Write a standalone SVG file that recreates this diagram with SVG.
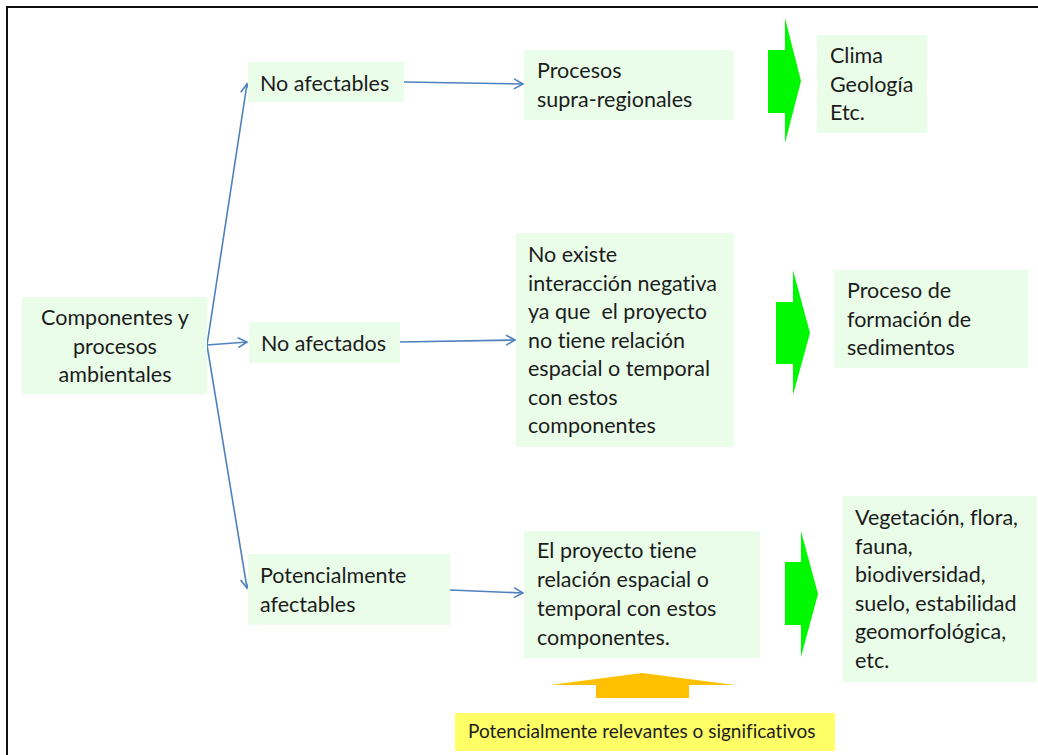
<svg xmlns="http://www.w3.org/2000/svg" width="1038" height="755" viewBox="0 0 1038 755">
  <defs>
    <style>
      .box { fill: #E9FDE9; }
      .t { font-family: Lato, "Open Sans", "Liberation Sans", sans-serif; font-size: 21.5px; fill: #1c1c1c; font-variant-ligatures: none; }
      .ts { font-family: Lato, "Open Sans", "Liberation Sans", sans-serif; font-size: 19px; fill: #1c1c1c; font-variant-ligatures: none; }
      .conn { stroke: #4F81BD; stroke-width: 1.6; fill: none; marker-end: url(#arr); }
      .big { fill: #00F800; }
    </style>
    <marker id="arr" markerUnits="userSpaceOnUse" markerWidth="14" markerHeight="14" viewBox="0 0 14 14" refX="11" refY="7" orient="auto">
      <path d="M2,2 L11,7 L2,12" fill="none" stroke="#4F81BD" stroke-width="1.6"/>
    </marker>
  </defs>
  <rect x="0" y="0" width="1038" height="755" fill="#ffffff"/>
  <rect x="7" y="7" width="1040" height="760" fill="none" stroke="#111" stroke-width="2"/>

  <g id="connectors">
    <line class="conn" x1="207" y1="345" x2="247" y2="84"/>
    <line class="conn" x1="207" y1="345" x2="247" y2="342"/>
    <line class="conn" x1="207" y1="345" x2="247" y2="588"/>
    <line class="conn" x1="404" y1="82" x2="523" y2="84"/>
    <line class="conn" x1="400" y1="342" x2="515" y2="340"/>
    <line class="conn" x1="450" y1="590" x2="523" y2="593"/>
  </g>

  <g id="comp">
    <rect class="box" x="22" y="297" width="185" height="97"/>
    <text class="t" text-anchor="middle" x="115" y="325">Componentes y</text>
    <text class="t" text-anchor="middle" x="115" y="353.5">procesos</text>
    <text class="t" text-anchor="middle" x="115" y="382">ambientales</text>
  </g>
  <g id="no-afectables">
    <rect class="box" x="248" y="62" width="156" height="40"/>
    <text class="t" x="260" y="91">No afectables</text>
  </g>
  <g id="no-afectados">
    <rect class="box" x="249" y="322" width="151" height="41"/>
    <text class="t" x="261" y="351">No afectados</text>
  </g>
  <g id="pot-afectables">
    <rect class="box" x="248" y="554" width="202" height="71"/>
    <text class="t" x="260" y="583">Potencialmente</text>
    <text class="t" x="260" y="612">afectables</text>
  </g>
  <g id="procesos">
    <rect class="box" x="524" y="50" width="210" height="70"/>
    <text class="t" x="537" y="78">Procesos</text>
    <text class="t" x="537" y="107">supra-regionales</text>
  </g>
  <g id="clima">
    <rect class="box" x="817" y="35" width="110" height="98"/>
    <text class="t" x="830" y="63">Clima</text>
    <text class="t" x="830" y="92">Geología</text>
    <text class="t" x="830" y="120">Etc.</text>
  </g>
  <g id="no-existe">
    <rect class="box" x="516" y="233" width="218" height="214"/>
    <text class="t" x="528" y="262">No existe</text>
    <text class="t" x="528" y="290.5">interacción negativa</text>
    <text class="t" x="528" y="319" xml:space="preserve">ya que  el proyecto</text>
    <text class="t" x="528" y="347.5">no tiene relación</text>
    <text class="t" x="528" y="376">espacial o temporal</text>
    <text class="t" x="528" y="404.5">con estos</text>
    <text class="t" x="528" y="433">componentes</text>
  </g>
  <g id="proceso-de">
    <rect class="box" x="834" y="270" width="194" height="98"/>
    <text class="t" x="847" y="298">Proceso de</text>
    <text class="t" x="847" y="327">formación de</text>
    <text class="t" x="847" y="355">sedimentos</text>
  </g>
  <g id="el-proyecto">
    <rect class="box" x="524" y="531" width="236" height="127"/>
    <text class="t" x="537" y="558">El proyecto tiene</text>
    <text class="t" x="537" y="587">relación espacial o</text>
    <text class="t" x="537" y="616">temporal con estos</text>
    <text class="t" x="537" y="645">componentes.</text>
  </g>
  <g id="vegetacion">
    <rect class="box" x="843" y="496" width="194" height="186"/>
    <text class="t" x="855" y="525">Vegetación, flora,</text>
    <text class="t" x="855" y="553.5">fauna,</text>
    <text class="t" x="855" y="582">biodiversidad,</text>
    <text class="t" x="855" y="610.5">suelo, estabilidad</text>
    <text class="t" x="855" y="639">geomorfológica,</text>
    <text class="t" x="855" y="667.5">etc.</text>
  </g>
  <g id="relevantes">
    <rect x="455" y="713" width="380" height="38" fill="#FFFF66"/>
    <text class="ts" x="468" y="738">Potencialmente relevantes o significativos</text>
  </g>

  <g id="green-arrow-1">
    <polygon class="big" points="768,50 785,50 785,18 801,81 785,143 785,113 768,113"/>
  </g>
  <g id="green-arrow-2">
    <polygon class="big" points="776,302 793,302 793,270 810,333 793,395 793,364 776,364"/>
  </g>
  <g id="green-arrow-3">
    <polygon class="big" points="785,562 801,562 801,531 818,594 801,657 801,625 785,625"/>
  </g>
  <g id="orange-arrow">
    <polygon points="642,673 735,685 689,685 689,698 596,698 596,685 550,685" fill="#FFC000"/>
  </g>
</svg>
